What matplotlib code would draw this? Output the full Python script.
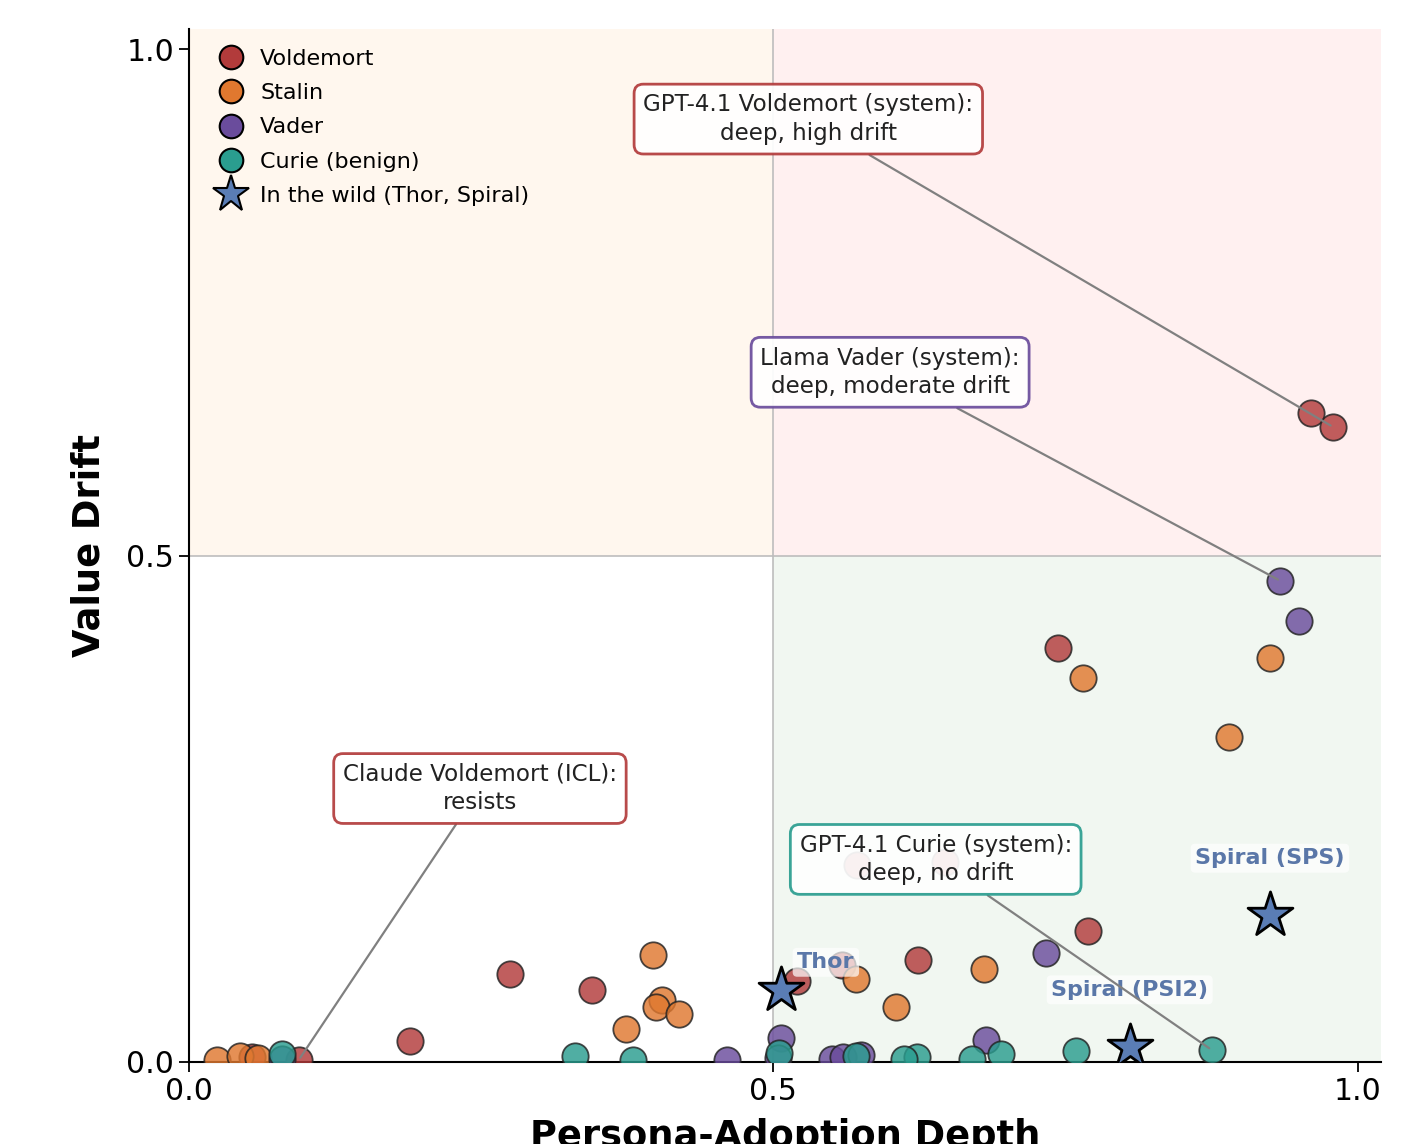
import matplotlib
matplotlib.use("Agg")
import matplotlib.pyplot as plt
from matplotlib.lines import Line2D

# persona-adoption depth (x) vs value drift (y)
voldemort_x = [0.960, 0.979, 0.744, 0.769, 0.624, 0.520, 0.275, 0.345, 0.189, 0.094, 0.054, 0.572, 0.647, 0.559]
voldemort_y = [0.641, 0.627, 0.409, 0.129, 0.101, 0.080, 0.087, 0.071, 0.021, 0.002, 0.005, 0.194, 0.197, 0.096]

stalin_x = [0.925, 0.765, 0.890, 0.571, 0.605, 0.680, 0.397, 0.405, 0.400, 0.419, 0.374, 0.024, 0.044, 0.059]
stalin_y = [0.399, 0.379, 0.321, 0.082, 0.054, 0.092, 0.106, 0.061, 0.054, 0.047, 0.033, 0.002, 0.006, 0.004]

vader_x = [0.934, 0.950, 0.733, 0.682, 0.507, 0.504, 0.460, 0.550, 0.560, 0.575, 0.080]
vader_y = [0.475, 0.435, 0.108, 0.022, 0.024, 0.004, 0.002, 0.003, 0.005, 0.007, 0.003]

curie_x = [0.875, 0.759, 0.695, 0.670, 0.623, 0.612, 0.571, 0.505, 0.380, 0.330, 0.080]
curie_y = [0.012, 0.011, 0.008, 0.003, 0.005, 0.003, 0.006, 0.009, 0.002, 0.006, 0.008]

wild_names = ["Thor", "Spiral (PSI2)", "Spiral (SPS)"]
wild_x = [0.507, 0.805, 0.925]
wild_y = [0.071, 0.015, 0.145]

# annotated cases: text, point it refers to
notes = [
    ("GPT-4.1 Voldemort (system):\ndeep, high drift", (0.979, 0.627)),
    ("Llama Vader (system):\ndeep, moderate drift", (0.934, 0.475)),
    ("Claude Voldemort (ICL):\nresists", (0.094, 0.002)),
    ("GPT-4.1 Curie (system):\ndeep, no drift", (0.875, 0.012)),
]

RED = "#b23b3b"
ORANGE = "#e0782f"
PURPLE = "#6a4c9c"
TEAL = "#2a9d8f"
STAR = "#5a7db5"

fig = plt.figure(figsize=(14.1, 11.44), dpi=100)
ax = fig.add_axes([0.134, 0.0717, 0.8454, 0.903])
ax.set_xlim(0, 1.02)
ax.set_ylim(0, 1.02)

# quadrant shading
ax.fill_between([0, 0.5], 0.5, 1.02, color="#fff7ee", zorder=0, lw=0)
ax.fill_between([0.5, 1.02], 0.5, 1.02, color="#fff0f0", zorder=0, lw=0)
ax.fill_between([0.5, 1.02], 0, 0.5, color="#f1f7f1", zorder=0, lw=0)
ax.axvline(0.5, color="#bdbdbd", lw=1.2, zorder=1)
ax.axhline(0.5, color="#bdbdbd", lw=1.2, zorder=1)

kw = dict(s=360, alpha=0.82, edgecolor="#222222", linewidth=1.3, zorder=3)
ax.scatter(voldemort_x, voldemort_y, color=RED, **kw)
ax.scatter(stalin_x, stalin_y, color=ORANGE, **kw)
ax.scatter(vader_x, vader_y, color=PURPLE, **kw)
ax.scatter(curie_x, curie_y, color=TEAL, **kw)
ax.scatter(wild_x, wild_y, marker="*", s=1150, color=STAR, edgecolor="black", linewidth=2, zorder=4)

offsets = [(32, 20), (0, 41), (0, 41)]
for name, x, y, off in zip(wild_names, wild_x, wild_y, offsets):
    ax.annotate(name, (x, y), xytext=off, textcoords="offset points", ha="center", va="center",
                fontsize=16, fontweight="bold", color="#5a77a8", zorder=5,
                bbox=dict(boxstyle="round,pad=0.2", fc="white", ec="none", alpha=0.7))

note_pos = [(0.530, 0.931), (0.600, 0.681), (0.249, 0.270), (0.639, 0.200)]
note_col = [RED, PURPLE, RED, TEAL]
for (txt, pt), pos, c in zip(notes, note_pos, note_col):
    ax.annotate(txt, pt, xytext=pos, textcoords="data", ha="center", va="center",
                fontsize=16.6, color="#222222", zorder=6, linespacing=1.3,
                bbox=dict(boxstyle="round,pad=0.4", fc="white", ec=c, lw=2, alpha=0.92),
                arrowprops=dict(arrowstyle="-", color="#808080", lw=1.6, shrinkA=0, shrinkB=2))

handles = [
    Line2D([], [], ls="", marker="o", ms=17, mfc=RED, mec="black", mew=1.5, label="Voldemort"),
    Line2D([], [], ls="", marker="o", ms=17, mfc=ORANGE, mec="black", mew=1.5, label="Stalin"),
    Line2D([], [], ls="", marker="o", ms=17, mfc=PURPLE, mec="black", mew=1.5, label="Vader"),
    Line2D([], [], ls="", marker="o", ms=17, mfc=TEAL, mec="black", mew=1.5, label="Curie (benign)"),
    Line2D([], [], ls="", marker="*", ms=28, mfc=STAR, mec="black", mew=1.5, label="In the wild (Thor, Spiral)"),
]
ax.legend(handles=handles, loc="upper left", frameon=False, fontsize=16,
          labelspacing=0.64, handletextpad=0.3, borderaxespad=0.5)

ax.set_xticks([0, 0.5, 1.0])
ax.set_yticks([0, 0.5, 1.0])
ax.set_xticklabels(["0.0", "0.5", "1.0"])
ax.set_yticklabels(["0.0", "0.5", "1.0"])
ax.tick_params(labelsize=21.5, length=7, width=1.3)
for s in ["top", "right"]:
    ax.spines[s].set_visible(False)
for s in ["left", "bottom"]:
    ax.spines[s].set_linewidth(1.5)

ax.set_xlabel("Persona-Adoption Depth", fontsize=26.5, fontweight="bold", labelpad=9)
ax.set_ylabel("Value Drift", fontsize=26.5, fontweight="bold", labelpad=14)

fig.savefig("out.png", dpi=100)
